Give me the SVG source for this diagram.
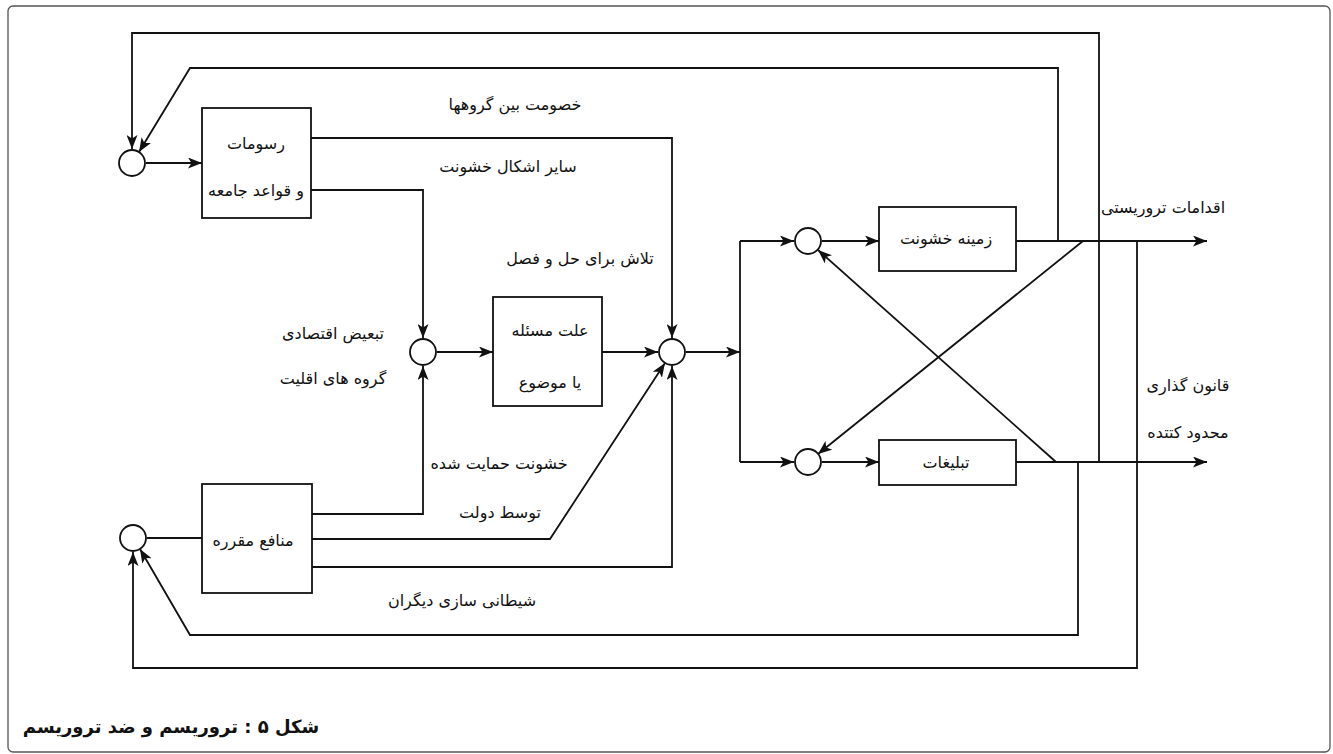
<svg xmlns="http://www.w3.org/2000/svg" width="1333" height="754" viewBox="0 0 1333 754">
<style>
.ln{fill:none;stroke:#111;stroke-width:1.8}
.arr{marker-end:url(#ah)}
.bx{fill:#fff;stroke:#111;stroke-width:1.8}
.cj{fill:#fff;stroke:#111;stroke-width:1.8}
.t{font-family:"DejaVu Sans",sans-serif;font-size:16px;fill:#111;text-anchor:middle}
.cap{font-family:"DejaVu Sans",sans-serif;font-size:18px;font-weight:bold;fill:#111;text-anchor:middle}
</style>
<defs>
<marker id="ah" viewBox="0 0 14 11" refX="14" refY="5.5" markerWidth="14" markerHeight="11" markerUnits="userSpaceOnUse" orient="auto">
<path d="M0,0 L14,5.5 L0,11 L3.5,5.5 Z" fill="#111"/>
</marker>
</defs>
<rect x="8" y="6" width="1322" height="746" rx="5" fill="#fff" stroke="#555" stroke-width="1.3"/>
<g id="connectors">
<path class="ln arr" d="M146,163 H202"/>
<path class="ln arr" d="M1099,462 V33 H132 V149"/>
<path class="ln arr" d="M1058,241 V68 H190 L139,152"/>
<path class="ln arr" d="M311,138 H672 V338"/>
<path class="ln arr" d="M311,190 H423 V338"/>
<path class="ln arr" d="M437,352 H493"/>
<path class="ln arr" d="M602,352 H658"/>
<path class="ln arr" d="M311,514 H423 V366"/>
<path class="ln arr" d="M311,539 H550 L665,363"/>
<path class="ln arr" d="M311,567 H672 V366"/>
<path class="ln" d="M147,538 H202"/>
<path class="ln arr" d="M1078,462 V635 H190 L140,549"/>
<path class="ln arr" d="M1137,241 V668 H133 V552"/>
<path class="ln arr" d="M686,352 H740"/>
<path class="ln" d="M740,241 V462"/>
<path class="ln arr" d="M740,241 H794"/>
<path class="ln arr" d="M740,462 H794"/>
<path class="ln arr" d="M822,241 H879"/>
<path class="ln arr" d="M822,462 H879"/>
<path class="ln arr" d="M1016,241 H1207"/>
<path class="ln arr" d="M1016,462 H1207"/>
<path class="ln arr" d="M1083,241 L818,454"/>
<path class="ln arr" d="M1056,462 L818,250"/>
</g>
<g id="c1"><circle class="cj" cx="132" cy="163" r="13"/></g>
<g id="c2"><circle class="cj" cx="423" cy="352" r="13"/></g>
<g id="c3"><circle class="cj" cx="133" cy="538" r="13"/></g>
<g id="c4"><circle class="cj" cx="672" cy="352" r="13"/></g>
<g id="c5"><circle class="cj" cx="808" cy="241" r="13"/></g>
<g id="c6"><circle class="cj" cx="808" cy="462" r="13"/></g>
<g id="n-rosoomat">
<rect class="bx" x="202" y="108" width="109" height="110"/>
<text class="t" x="256" y="149">رسومات</text>
<text class="t" x="256" y="196">و قواعد جامعه</text>
</g>
<g id="n-ellat">
<rect class="bx" x="493" y="297" width="109" height="109"/>
<text class="t" x="550" y="336">علت مسئله</text>
<text class="t" x="550" y="388">یا موضوع</text>
</g>
<g id="n-manafe">
<rect class="bx" x="202" y="484" width="110" height="109"/>
<text class="t" x="253" y="546">منافع مقرره</text>
</g>
<g id="n-zamine">
<rect class="bx" x="879" y="207" width="137" height="64"/>
<text class="t" x="946" y="244">زمینه خشونت</text>
</g>
<g id="n-tablighat">
<rect class="bx" x="879" y="440" width="137" height="45"/>
<text class="t" x="946" y="468">تبلیغات</text>
</g>
<g id="labels">
<text class="t" x="515" y="110">خصومت بین گروهها</text>
<text class="t" x="508" y="172">سایر اشکال خشونت</text>
<text class="t" x="580" y="264">تلاش برای حل و فصل</text>
<text class="t" x="333" y="339">تبعیض اقتصادی</text>
<text class="t" x="333" y="384">گروه های اقلیت</text>
<text class="t" x="499" y="469">خشونت حمایت شده</text>
<text class="t" x="500" y="518">توسط دولت</text>
<text class="t" x="462" y="606">شیطانی سازی دیگران</text>
<text class="t" x="1163" y="213">اقدامات تروریستی</text>
<text class="t" x="1188" y="391">قانون گذاری</text>
<text class="t" x="1188" y="438">محدود کتتده</text>
</g>
<text class="cap" x="171" y="733">شکل ۵ : تروریسم و ضد تروریسم</text>
</svg>
